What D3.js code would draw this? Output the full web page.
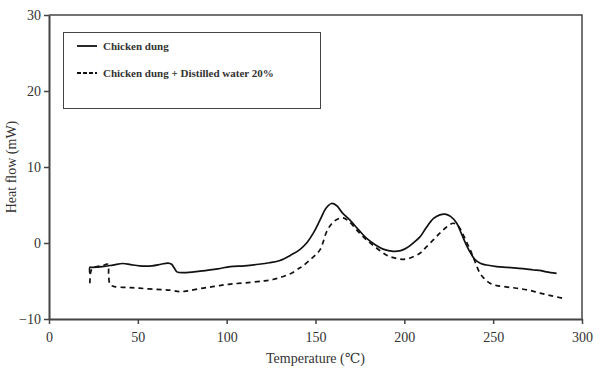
<!DOCTYPE html>
<html>
<head>
<meta charset="utf-8">
<script src="https://cdn.jsdelivr.net/npm/d3@7"></script>
<style>
  body { margin: 0; background: #fff; }
  svg text { font-family: "Liberation Serif", "DejaVu Serif", serif; fill: #333; }
</style>
</head>
<body>
<svg id="chart" width="600" height="371"></svg>
<script>
// temperature (C) and heat flow (mW)
const dungT = [23, 23, 24, 30, 36, 41.6, 46, 51, 58, 63, 67, 69, 70.5, 72, 76, 85, 95, 102, 110, 118, 124, 130, 136, 141, 145, 149, 152.5, 156, 159, 162, 165, 169.4, 174, 178.8, 184, 188, 193.8, 198, 201, 205, 208.8, 212, 216.3, 220, 222.9, 226, 229.5, 232, 235, 237.5, 239.8, 243, 246.3, 252, 258, 263.2, 268, 272.6, 276, 280, 285.7];
const dungV = [-4.0, -3.2, -3.2, -3.1, -2.9, -2.7, -2.85, -3.0, -3.0, -2.8, -2.65, -2.8, -3.3, -3.8, -3.9, -3.7, -3.4, -3.1, -3.0, -2.8, -2.6, -2.3, -1.6, -0.9, 0.0, 1.4, 3.0, 4.6, 5.2, 4.9, 4.0, 3.0, 1.8, 0.6, -0.3, -0.8, -1.1, -1.0, -0.7, 0.0, 0.8, 1.9, 3.2, 3.7, 3.8, 3.5, 2.6, 1.3, -0.3, -1.4, -2.2, -2.7, -2.9, -3.1, -3.2, -3.3, -3.4, -3.55, -3.6, -3.8, -4.0];

const waterT = [23, 23.5, 24.5, 27, 30, 33, 33.6, 34.5, 37, 44, 51, 60, 68, 73.7, 78, 85, 90.6, 96, 102, 110, 120.6, 126, 131.9, 137, 141, 143, 148, 152.5, 156.3, 159, 162, 165.6, 169, 174, 178.8, 184, 190, 195, 199.4, 204, 208.8, 212, 216.3, 220, 223.8, 227.6, 230.5, 233.2, 235.5, 237.9, 240, 242.6, 245, 248.2, 252, 258, 263.2, 270, 276.4, 283, 289.5];
const waterV = [-5.3, -3.8, -3.3, -3.1, -3.0, -2.8, -4.5, -5.5, -5.75, -5.85, -5.95, -6.1, -6.2, -6.4, -6.3, -6.0, -5.8, -5.6, -5.4, -5.25, -5.0, -4.8, -4.4, -3.9, -3.3, -3.0, -2.0, -0.9, 1.5, 2.5, 3.1, 3.3, 2.8, 1.5, 0.4, -0.6, -1.6, -2.0, -2.15, -1.9, -1.35, -0.6, 0.4, 1.3, 2.1, 2.6, 2.2, 1.05, -0.1, -1.35, -2.6, -4.0, -4.7, -5.3, -5.6, -5.8, -5.95, -6.2, -6.6, -6.95, -7.3];

const xTicks = [0, 50, 100, 150, 200, 250, 300];
const yTicks = [-10, 0, 10, 20, 30];
const seriesNames = ['Chicken dung', 'Chicken dung + Distilled water 20%'];

const margin = {left: 49, right: 18, top: 15, bottom: 52};
const width = 600, height = 371;
const svg = d3.select('#chart');

const xScale = d3.scaleLinear().domain([0, 300]).range([margin.left, width - margin.right]);
const yScale = d3.scaleLinear().domain([-10, 30]).range([height - margin.bottom, margin.top]);

// frame (top and right)
svg.append('path')
    .attr('d', `M${xScale(0)},${yScale(30)}H${xScale(300)}V${yScale(-10)}`)
    .attr('fill', 'none')
    .attr('stroke', '#444')
    .attr('stroke-width', 1.5);

let xAxis = d3.axisBottom(xScale).tickValues(xTicks).tickSize(5).tickSizeOuter(0);
let yAxis = d3.axisLeft(yScale).tickValues(yTicks).tickSize(5).tickSizeOuter(0);

let gx = svg.append('g').attr('transform', `translate(0,${yScale(-10)})`).call(xAxis);
let gy = svg.append('g').attr('transform', `translate(${xScale(0)},0)`).call(yAxis);
[gx, gy].forEach(g => {
    g.select('.domain').attr('stroke', '#444').attr('stroke-width', 2);
    g.selectAll('.tick line').attr('stroke', '#444').attr('stroke-width', 1.5);
    g.selectAll('.tick text').style('font-size', '14px').attr('fill', '#333');
});
gx.selectAll('.tick text').attr('dy', '1.1em');
gy.selectAll('.tick text').attr('x', -8);

const line = d3.line().curve(d3.curveCatmullRom.alpha(0.5));

svg.append('path')
    .datum(dungT.map((t, i) => [xScale(t), yScale(dungV[i])]))
    .attr('d', line)
    .attr('fill', 'none')
    .attr('stroke', '#111')
    .attr('stroke-width', 1.7);

svg.append('path')
    .datum(waterT.map((t, i) => [xScale(t), yScale(waterV[i])]))
    .attr('d', line)
    .attr('fill', 'none')
    .attr('stroke', '#111')
    .attr('stroke-width', 1.7)
    .attr('stroke-dasharray', '5,4');

// legend
let legend = svg.append('g');
legend.append('rect')
    .attr('x', 63.5).attr('y', 32.5).attr('width', 257).attr('height', 76)
    .attr('fill', '#fff').attr('stroke', '#444').attr('stroke-width', 1);
seriesNames.forEach((name, i) => {
    let yy = 46 + i * 27;
    legend.append('line')
        .attr('x1', 77).attr('x2', 97).attr('y1', yy).attr('y2', yy)
        .attr('stroke', '#111').attr('stroke-width', 1.8)
        .attr('stroke-dasharray', i ? '4,2' : null);
    legend.append('text')
        .attr('x', 103).attr('y', yy).attr('dy', '0.35em')
        .style('font-size', '11px').style('font-weight', 'bold')
        .text(name);
});

svg.append('text')
    .attr('transform', `translate(16,${(yScale(30) + yScale(-10)) / 2}) rotate(-90)`)
    .attr('text-anchor', 'middle')
    .style('font-size', '14px')
    .text('Heat flow (mW)');

svg.append('text')
    .attr('x', (xScale(0) + xScale(300)) / 2)
    .attr('y', 363)
    .attr('text-anchor', 'middle')
    .style('font-size', '14px')
    .text('Temperature (℃)');
</script>
</body>
</html>
